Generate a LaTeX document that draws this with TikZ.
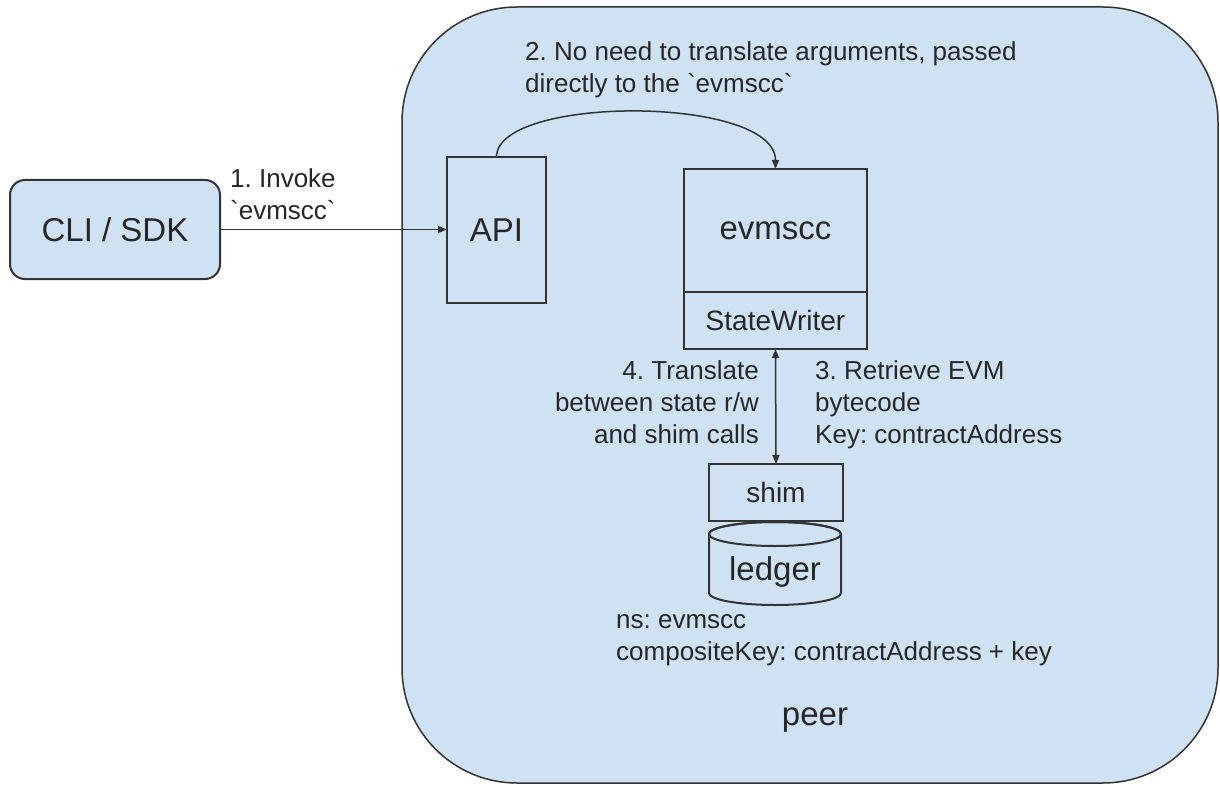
\documentclass[tikz,border=0pt]{standalone}
\usepackage{fontspec}
\setmainfont{Liberation Sans}[Ligatures=TeXOff]
\usetikzlibrary{arrows.meta}
\definecolor{fillblue}{HTML}{CFE2F3}
\definecolor{ink}{HTML}{262626}
\definecolor{edge}{HTML}{333333}
\frenchspacing
\begin{document}
\begin{tikzpicture}[x=1pt,y=-1pt,
  box/.style={draw=edge, line width=2pt, fill=fillblue, inner sep=0pt, outer sep=0pt, text=ink},
  conn/.style={draw=edge, line width=1.5pt, -{Triangle[length=9pt,width=7pt]}},
  lbl/.style={text=ink, inner sep=0pt, font=\fontsize{26}{32}\selectfont},
  big/.style={font=\fontsize{33}{40}\selectfont},
  mid/.style={font=\fontsize{28}{34}\selectfont}]
\useasboundingbox (0,0) rectangle (1220,786);
% peer container
\node[box, line width=1.5pt, rounded corners=115pt, minimum width=816pt, minimum height=776pt] (peer) at (810,395) {};
\node[text=ink, big, inner sep=0pt, anchor=base] (peerlbl) at (815,725) {peer};
% boxes
\node[box, big, rounded corners=15pt, minimum width=210pt, minimum height=99pt] (cli) at (115,229.5) {CLI / SDK};
\node[box, big, minimum width=99pt, minimum height=146pt] (api) at (496.5,230) {API};
\node[box, big, minimum width=183pt, minimum height=123pt] (evm) at (775.5,230.5) {evmscc};
\node[box, mid, minimum width=183pt, minimum height=57pt, anchor=north] (sw) at (evm.south) {StateWriter};
\node[box, mid, minimum width=134pt, minimum height=57pt] (shim) at (776,492.5) {shim};
% ledger cylinder
\path[box] (709,534) -- (709,593) arc[start angle=180,end angle=0,x radius=66,y radius=12]
  -- (841,534) arc[start angle=0,end angle=-180,x radius=66,y radius=12] -- cycle;
\draw[draw=edge, line width=2pt] (775,534) ellipse [x radius=66, y radius=12];
\node[text=ink, big, inner sep=0pt, anchor=base] (ledger) at (775,580) {ledger};
% connectors
\draw[conn] (cli.east) -- (cli.east -| api.west);
\draw[conn] (api.north) .. controls +(0,-62) and +(0,-74) .. (evm.north);
\draw[conn, {Triangle[length=9pt,width=7pt]}-{Triangle[length=9pt,width=7pt]}] (sw.south) -- (shim.north);
% labels (base anchor = baseline of the last line)
\node[lbl, anchor=base west, align=left] (l1) at (230,220) {1. Invoke\\`evmscc`};
\node[lbl, anchor=base west, align=left] (l2) at (525,93) {2. No need to translate arguments, passed\\directly to the `evmscc`};
\node[lbl, anchor=base west, align=left] (l3) at (815,443) {3. Retrieve EVM\\bytecode\\Key: contractAddress};
\node[lbl, anchor=base east, align=right] (l4) at (759,443) {4. Translate\\between state r/w\\and shim calls};
\node[lbl, anchor=base west, align=left] (l5) at (616,660) {ns: evmscc\\compositeKey: contractAddress + key};
\end{tikzpicture}
\end{document}
